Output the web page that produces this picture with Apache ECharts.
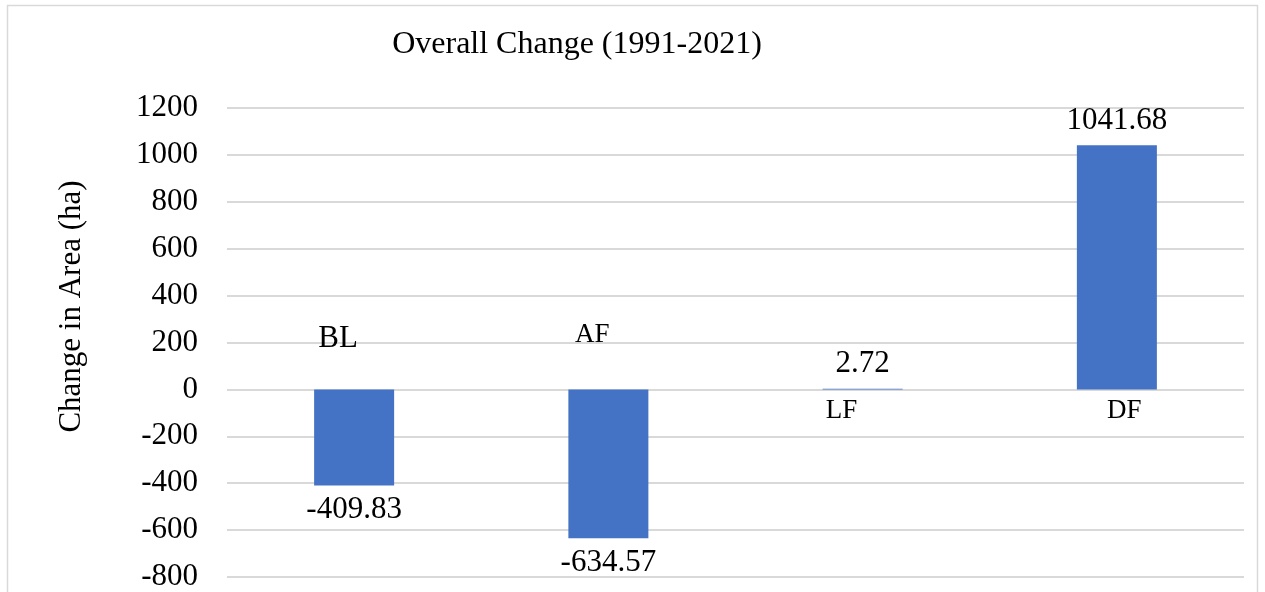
<!DOCTYPE html>
<html>
<head>
<meta charset="utf-8">
<script src="https://cdn.jsdelivr.net/npm/echarts@6/dist/echarts.min.js"></script>
<style>
  html, body { margin: 0; padding: 0; background: #fff; }
  #chart { width: 1265px; height: 592px; }
</style>
</head>
<body>
<div id="chart"></div>
<script>
// data
var categories = ['BL', 'AF', 'LF', 'DF'];
var changeValues = [-409.83, -634.57, 2.72, 1041.68];
var yMin = -800, yMax = 1200, yStep = 200;

var serif = '"Liberation Serif", "Times New Roman", serif';

// the category names sit inside the plot in the source, some above zero, some below
var catRich = {
    BL: { fontSize: 31, fontFamily: serif, color: '#000', padding: [0, 32, 74, 0] },
    AF: { fontSize: 27, fontFamily: serif, color: '#000', padding: [0, 32, 80, 0] },
    LF: { fontSize: 27, fontFamily: serif, color: '#000', padding: [0, 42, 4, 0] },
    DF: { fontSize: 27, fontFamily: serif, color: '#000', padding: [0, 0, 4, 15] }
};

var chart = echarts.init(document.getElementById('chart'));
var option = {
    backgroundColor: '#fff',
    animation: false,
    title: {
        text: 'Overall Change (1991-2021)',
        left: 572,
        top: 24,
        textAlign: 'center',
        textStyle: {
            fontFamily: serif,
            fontSize: 32,
            fontWeight: 'normal',
            color: '#000'
        }
    },
    graphic: [{
        type: 'rect',
        shape: { x: 7.5, y: 5.5, width: 1250, height: 620 },
        style: { fill: 'none', stroke: '#d9d9d9', lineWidth: 1.5 },
        silent: true
    }],
    grid: { left: 227, right: 21, top: 108, bottom: 15, outerBoundsMode: 'none' },
    xAxis: {
        type: 'category',
        data: categories,
        axisLine: { show: false, onZero: false },
        axisTick: { show: false },
        axisLabel: {
            interval: 0,
            hideOverlap: false,
            margin: -149,
            verticalAlign: 'bottom',
            formatter: function (v) { return '{' + v + '|' + v + '}'; },
            rich: catRich
        }
    },
    yAxis: {
        type: 'value',
        min: yMin,
        max: yMax,
        interval: yStep,
        name: 'Change in Area (ha)',
        nameLocation: 'middle',
        nameGap: 140,
        nameTextStyle: {
            fontFamily: serif,
            fontSize: 31,
            color: '#000',
            padding: [0, 0, 0, 72]
        },
        axisLine: { show: false },
        axisTick: { show: false },
        axisLabel: {
            margin: 29,
            fontFamily: serif,
            fontSize: 31,
            color: '#000',
            formatter: function (v) { return String(v); }
        },
        splitLine: { lineStyle: { color: '#d9d9d9', width: 2 } }
    },
    series: [{
        type: 'bar',
        data: changeValues,
        barWidth: 80,
        itemStyle: { color: '#4472c4' },
        label: {
            show: true,
            position: 'outside',
            distance: 9,
            fontFamily: serif,
            fontSize: 31,
            color: '#000',
            formatter: function (p) { return p.value.toFixed(2); }
        }
    }]
};
chart.setOption(option);
</script>
</body>
</html>
